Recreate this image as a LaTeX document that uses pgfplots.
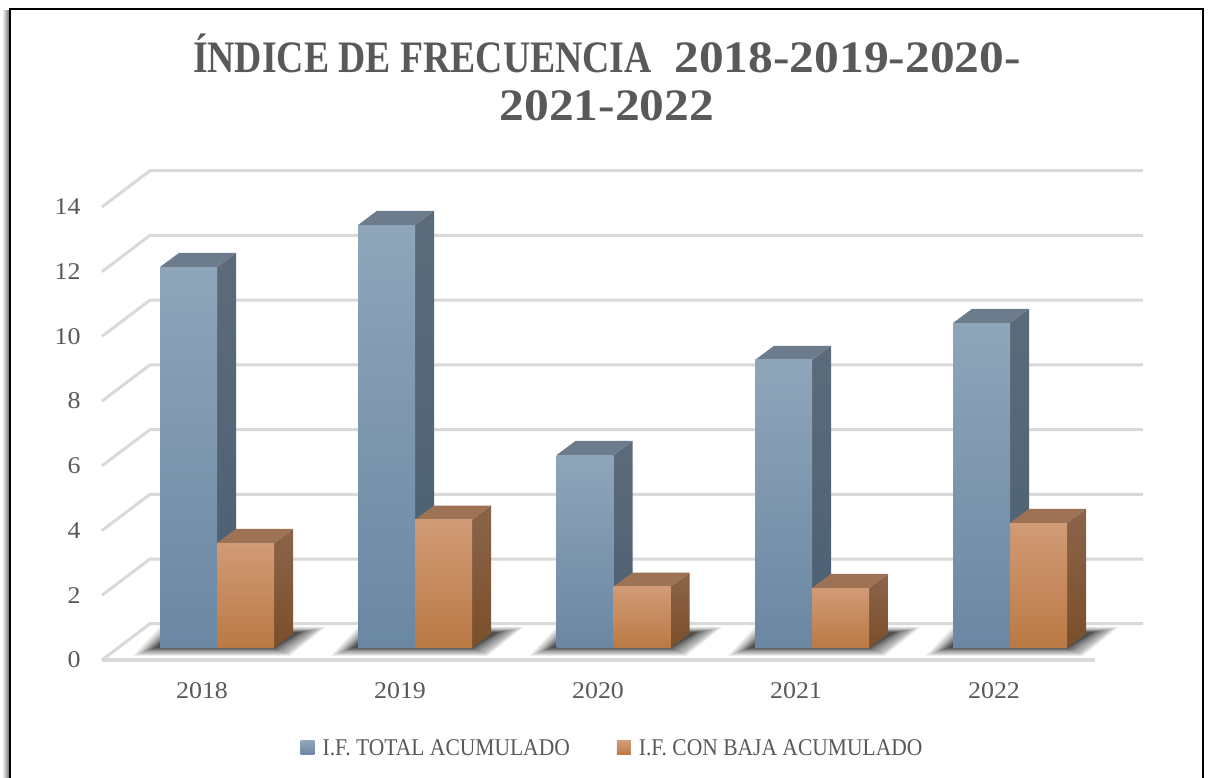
\documentclass[border=0pt]{standalone}
\usepackage{fontspec}
\setmainfont{Liberation Serif}
\newfontfamily\ticksf[FakeStretch=1.08]{Liberation Serif}
\newfontfamily\legsf[FakeStretch=0.897]{Liberation Serif}
\newfontfamily\titleA[FakeStretch=0.838]{Liberation Serif}
\newfontfamily\titleB[FakeStretch=1.10]{Liberation Serif}
\usepackage{pgfplots}
\pgfplotsset{compat=1.18}
\definecolor{txt}{HTML}{595959}
\definecolor{gridc}{HTML}{D9D9D9}
\definecolor{bF1}{HTML}{8FA5BA}\definecolor{bF2}{HTML}{7C96AF}\definecolor{bF3}{HTML}{6A87A3}
\definecolor{bS1}{HTML}{5C6B7A}\definecolor{bS2}{HTML}{4A5F73}
\definecolor{bT}{HTML}{6C7C8C}
\definecolor{oF1}{HTML}{D19B76}\definecolor{oF2}{HTML}{CC8B56}\definecolor{oF3}{HTML}{BA7944}
\definecolor{oS1}{HTML}{8B6449}\definecolor{oS2}{HTML}{7A4F2A}
\definecolor{oT}{HTML}{9E7355}
% #1 prefix, #2 front centre, #3 x0, #4 x1, #5 x2, #6 top-left back x, #7 value, #8 value + depth
\newcommand\cube[8]{%
 \addplot[forget plot,draw=none,top color=#1S1,bottom color=#1S2]
   coordinates {(#4,#7)(#5,#8)(#5,0.44)(#4,0)(#4,#7)};
 \addplot[forget plot,draw=none,fill=#1T]
   coordinates {(#3,#7)(#6,#8)(#5,#8)(#4,#7)(#3,#7)};
 \addplot[forget plot,ybar,bar shift=0pt,bar width=57,draw=none,top color=#1F1,middle color=#1F2,bottom color=#1F3]
   coordinates {(#2,#7)};
}
\newcommand\shadowat[1]{%
 \addplot[forget plot,draw=none,fill=black,opacity=0.06,x filter/.expression={x+#1}] coordinates {(-27,-0.24)(130,-0.24)(166,0.66)(0,0.66)};
 \addplot[forget plot,draw=none,fill=black,opacity=0.06,x filter/.expression={x+#1}] coordinates {(-25,-0.22)(129,-0.22)(164,0.64)(1.3,0.64)};
 \addplot[forget plot,draw=none,fill=black,opacity=0.06,x filter/.expression={x+#1}] coordinates {(-23,-0.20)(128,-0.20)(162,0.62)(2.5,0.62)};
 \addplot[forget plot,draw=none,fill=black,opacity=0.06,x filter/.expression={x+#1}] coordinates {(-21,-0.18)(127,-0.18)(160,0.60)(3.8,0.60)};
 \addplot[forget plot,draw=none,fill=black,opacity=0.07,x filter/.expression={x+#1}] coordinates {(-19,-0.16)(126,-0.16)(158,0.585)(5.1,0.585)};
 \addplot[forget plot,draw=none,fill=black,opacity=0.08,x filter/.expression={x+#1}] coordinates {(-17,-0.13)(124,-0.13)(156,0.57)(6.4,0.57)};
 \addplot[forget plot,draw=none,fill=black,opacity=0.09,x filter/.expression={x+#1}] coordinates {(-15,-0.10)(122,-0.10)(153,0.555)(7.6,0.555)};
 \addplot[forget plot,draw=none,fill=black,opacity=0.10,x filter/.expression={x+#1}] coordinates {(-13,-0.08)(120,-0.08)(150,0.54)(8.9,0.54)};
 \addplot[forget plot,draw=none,fill=black,opacity=0.11,x filter/.expression={x+#1}] coordinates {(-11,-0.06)(118,-0.06)(147,0.525)(10.2,0.525)};
 \addplot[forget plot,draw=none,fill=black,opacity=0.12,x filter/.expression={x+#1}] coordinates {(-9,-0.04)(116,-0.04)(144,0.51)(11.5,0.51)};
 \addplot[forget plot,draw=none,fill=black,opacity=0.13,x filter/.expression={x+#1}] coordinates {(-7,-0.02)(115,-0.02)(142,0.495)(12.7,0.495)};
 \addplot[forget plot,draw=none,fill=black,opacity=0.14,x filter/.expression={x+#1}] coordinates {(-5,0)(114,0)(140,0.48)(14,0.48)};
}
\begin{document}
\begin{tikzpicture}[x=1pt,y=1pt]
\useasboundingbox (0,0) rectangle (1210,778);
\fill[white] (0,0) rectangle (1210,778);
\fill[left color=white,right color=black!55] (2,-1) rectangle (9,767);
\draw[black,line width=2.6pt] (10,-5) -- (10,769) -- (1203,769) -- (1203,-5);
\begin{axis}[
  at={(88pt,106pt)},anchor=south west,
  scale only axis,width=1122pt,height=672pt,
  xmin=88,xmax=1210,ymin=-0.7417,ymax=20.025,
  clip=false,no markers,
  axis line style={draw=none},
  tick style={draw=none},
  xtick={202,400,598,796,994},
  xticklabels={2018,2019,2020,2021,2022},
  ytick={-0.37,1.63,3.63,5.63,7.63,9.63,11.63,13.63},
  yticklabels={0,2,4,6,8,10,12,14},
  tick label style={font=\ticksf\fontsize{24}{24}\selectfont,text=txt},
  xticklabel style={yshift=-7pt},
  yticklabel style={xshift=-4pt},
  title={{\titleA\bfseries ÍNDICE DE FRECUENCIA}\ \ {\titleB\bfseries 2018-2019-2020-}\\{\titleB\bfseries 2021-2022}},
  title style={at={(0.4625,0.8765)},anchor=center,align=center,text=txt,
    font=\fontsize{45}{48}\selectfont},
  legend style={at={(0.4675,-0.113)},anchor=center,draw=none,fill=none,
    legend columns=2,font=\legsf\fontsize{24}{24}\selectfont,text=txt,
    /tikz/every even column/.style={column sep=45pt}},
]
% back wall and side wall gridlines
\pgfplotsset{gl/.style={forget plot,color=gridc,line width=3pt}}
\addplot[gl] coordinates {(102,-0.37)(150,0.75)(1143,0.75)};
\addplot[gl] coordinates {(102,1.63)(150,2.75)(1143,2.75)};
\addplot[gl] coordinates {(102,3.63)(150,4.75)(1143,4.75)};
\addplot[gl] coordinates {(102,5.63)(150,6.75)(1143,6.75)};
\addplot[gl] coordinates {(102,7.63)(150,8.75)(1143,8.75)};
\addplot[gl] coordinates {(102,9.63)(150,10.75)(1143,10.75)};
\addplot[gl] coordinates {(102,11.63)(150,12.75)(1143,12.75)};
\addplot[gl] coordinates {(102,13.63)(150,14.75)(1143,14.75)};
\addplot[gl,line width=3.5pt] coordinates {(102,-0.37)(1095,-0.37)};
% floor shadows
\shadowat{160}
\shadowat{358}
\shadowat{556.5}
\shadowat{755}
\shadowat{953}
% bars: blue = I.F. TOTAL ACUMULADO, orange = I.F. CON BAJA ACUMULADO
\cube{b}{188.5}{160}{217}{236}{179}{11.77}{12.21}
\cube{o}{245.5}{217}{274}{293}{236}{3.24}{3.68}
\cube{b}{386.5}{358}{415}{434}{377}{13.07}{13.51}
\cube{o}{443.5}{415}{472}{491}{434}{3.96}{4.40}
\cube{b}{585}{556.5}{613.5}{632.5}{575.5}{5.96}{6.40}
\cube{o}{642}{613.5}{670.5}{689.5}{632.5}{1.89}{2.33}
\cube{b}{783.5}{755}{812}{831}{774}{8.90}{9.34}
\cube{o}{840.5}{812}{869}{888}{831}{1.85}{2.29}
\cube{b}{981.5}{953}{1010}{1029}{972}{10.04}{10.48}
\cube{o}{1038.5}{1010}{1067}{1086}{1029}{3.86}{4.30}
\addlegendimage{legend image code/.code={\path[draw=none,top color=bF1,bottom color=bF3] (0pt,-7pt) rectangle (14pt,7pt);}}
\addlegendentry{\hspace{6pt}I.F. TOTAL ACUMULADO}
\addlegendimage{legend image code/.code={\path[draw=none,top color=oF1,bottom color=oF3] (0pt,-7pt) rectangle (14pt,7pt);}}
\addlegendentry{\hspace{6pt}I.F. CON BAJA ACUMULADO}
\end{axis}
\end{tikzpicture}
\end{document}
